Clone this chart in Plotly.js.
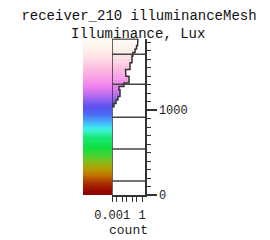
<!DOCTYPE html>
<html>
<head>
<meta charset="utf-8">
<script src="https://cdn.plot.ly/plotly-3.0.1.min.js"></script>
<style>html,body{margin:0;padding:0;background:#fff;}#chart{width:270px;height:240px;}</style>
</head>
<body>
<div id="chart"></div>
<script>
// Histogram bins (illuminance, Lux): lower edge of each bin, top to bottom
const binLower = [1800,1760,1720,1680,1640,1600,1560,1520,1480,1440,1400,1360,1320,1280,1240,1200,1160,1120,1080,1040];
const binWidth = 40;
// counts per bin (log scale axis)
const binCount = [0.39,0.35,0.28,0.20,0.12,0.098,0.098,0.062,0.062,0.022,0.024,0.049,0.049,0.015,0.0048,0.0061,0.0061,0.0038,0.0024,0.0015];
// Horizontal divider levels in the histogram panel
const dividerLevels = [165, 541, 918, 1306, 1659];
// Y axis ticks
const yTickVals = [0, 1000];
const yTickText = ['0', '1000'];
// X axis (count) ticks
const xTickVals = [0.001, 0.003, 0.01, 0.03, 0.1, 0.3, 1, 2];
const xTickText = ['0.001', '', '', '', '', '', '1', ''];
// Colour map of illuminance (value, colour)
const cmapVals = [0, 60, 140, 230, 300, 380, 450, 560, 680, 730, 780, 830, 900, 960, 1040, 1110, 1190, 1280, 1380, 1500, 1620, 1730, 1845];
const cmapCols = ['#8a0000','#9a0c00','#aa3000','#c07000','#b89800','#90b818','#50d030','#10e040','#18e878','#30f0b0','#40f0e8','#40c8f8','#4890f8','#4c68f4','#5a50f0','#8860f0','#c070f0','#f080f0','#f8a0e8','#fcc0e0','#fde0e4','#fdf3ea','#fffcf5'];

const yMax = 1845;
const xRange = [-3.02, 0.3];
const colorscale = cmapVals.map((v, i) => [v / yMax, cmapCols[i]]);

const binCenter = binLower.map(v => v + binWidth / 2);

// colour ramp for the colour bar
const rampY = [];
for (let v = 0; v <= yMax; v += 5) rampY.push(v);
const rampZ = rampY.map(v => [v]);

// outline of histogram
const left = Math.pow(10, xRange[0]);
const ox = [left, left], oy = [0, binLower[0] + binWidth];
binLower.forEach((lo, i) => { ox.push(binCount[i], binCount[i]); oy.push(lo + binWidth, lo); });
ox.push(left); oy.push(binLower[binLower.length - 1]);

const font = {family: 'Liberation Mono, Courier New, monospace', color: '#222'};

const traces = [
  {type: 'heatmap', x: [0], y: rampY, z: rampZ, xaxis: 'x2', yaxis: 'y',
   colorscale: colorscale, zmin: 0, zmax: yMax, showscale: false, hoverinfo: 'skip'},
  {type: 'bar', orientation: 'h', x: binCount, y: binCenter, width: binWidth,
   marker: {color: binCenter, colorscale: colorscale, cmin: 0, cmax: yMax, line: {width: 0}},
   xaxis: 'x', yaxis: 'y', hoverinfo: 'skip'},
  {type: 'scatter', mode: 'lines', x: ox, y: oy, xaxis: 'x', yaxis: 'y', cliponaxis: false,
   line: {color: '#333', width: 1.5}, hoverinfo: 'skip'}
];

const shapes = dividerLevels.map(v => ({type: 'line', xref: 'x domain', x0: 0, x1: 1, yref: 'y', y0: v, y1: v,
  line: {color: '#444', width: 1.5}}));

const layout = {
  width: 270, height: 240,
  margin: {l: 0, r: 0, t: 0, b: 0},
  paper_bgcolor: '#fff', plot_bgcolor: 'rgba(0,0,0,0)',
  showlegend: false, bargap: 0,
  font: font,
  title: {text: 'receiver_210 illuminanceMesh', x: 139 / 270, xanchor: 'center', y: 1 - 15.5 / 240, yanchor: 'middle',
          font: {family: font.family, size: 14, color: '#111'}},
  annotations: [{text: 'Illuminance, Lux', xref: 'paper', yref: 'paper', x: 138 / 270, y: 1 - 33.5 / 240,
                 xanchor: 'center', yanchor: 'middle', showarrow: false,
                 font: {family: font.family, size: 14, color: '#111'}}],
  xaxis: {domain: [112 / 270, 145 / 270], type: 'log', range: xRange, anchor: 'y',
          showline: true, linecolor: '#333', linewidth: 1.5, showgrid: false, zeroline: false,
          ticks: 'outside', ticklen: 5, tickcolor: '#333', tickwidth: 1, ticklabelstandoff: 3,
          tickvals: xTickVals, ticktext: xTickText, tickfont: {family: font.family, size: 12, color: '#222'},
          title: {text: 'count', font: {family: font.family, size: 13, color: '#222'}, standoff: 2}},
  xaxis2: {domain: [83 / 270, 112 / 270], anchor: 'y', visible: false, range: [-0.5, 0.5]},
  yaxis: {domain: [45 / 240, (240 - 38.5) / 240], range: [0, yMax], side: 'right', anchor: 'x',
          showline: true, linecolor: '#333', linewidth: 1.5, showgrid: false, zeroline: false,
          ticks: 'outside', ticklen: 10, tickcolor: '#333', tickwidth: 1.5,
          tickvals: yTickVals, ticktext: yTickText, tickfont: {family: font.family, size: 12, color: '#222'},
          minor: {ticks: 'outside', ticklen: 4, dtick: 100, tickcolor: '#333', tickwidth: 1}},
  shapes: shapes
};

Plotly.newPlot('chart', traces, layout, {displayModeBar: false, staticPlot: true});
</script>
</body>
</html>
